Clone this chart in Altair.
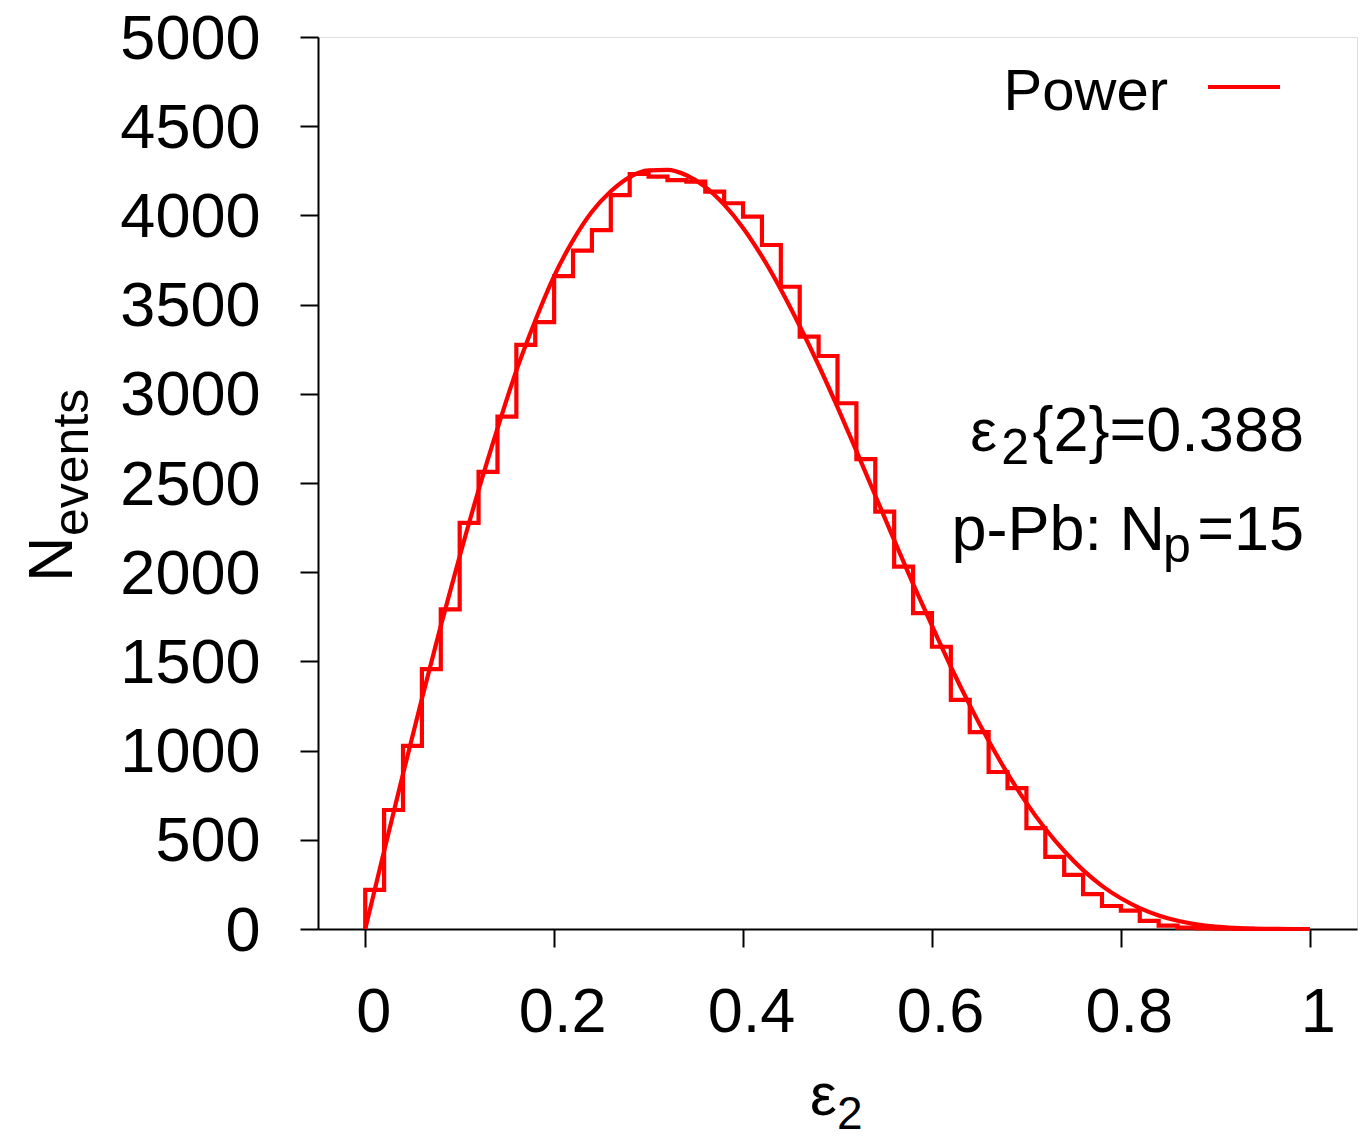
import altair as alt
import pandas as pd

FONT = "Liberation Sans"
RED = "#ff0000"

# ---------------- data ----------------
bin_width = 0.02
hist_counts = [219, 667, 1027, 1457, 1792, 2276, 2562, 2872, 3274, 3402,
               3660, 3802, 3918, 4114, 4232, 4217, 4198, 4189, 4133, 4068,
               3993, 3834, 3600, 3320, 3212, 2947, 2634, 2339, 2031, 1771,
               1582, 1284, 1104, 880, 790, 566, 404, 303, 196, 129,
               103, 46, 19, 8, 4, 2, 1, 0, 0, 0]

curve_x = [0.00, 0.02, 0.04, 0.06, 0.08, 0.10, 0.12, 0.14, 0.16, 0.18,
           0.20, 0.22, 0.24, 0.26, 0.28, 0.30, 0.32, 0.34, 0.36, 0.38,
           0.40, 0.42, 0.44, 0.46, 0.48, 0.50, 0.52, 0.54, 0.56, 0.58,
           0.60, 0.62, 0.64, 0.66, 0.68, 0.70, 0.72, 0.74, 0.76, 0.78,
           0.80, 0.82, 0.84, 0.86, 0.88, 0.90, 0.92, 0.94, 0.96, 0.98, 1.00]
curve_y = [0, 437, 869, 1291, 1699, 2089, 2460, 2805, 3130, 3410,
           3660, 3860, 4020, 4135, 4215, 4252, 4255, 4225, 4160, 4060,
           3930, 3770, 3585, 3380, 3160, 2925, 2680, 2430, 2180, 1935,
           1700, 1470, 1255, 1055, 872, 707, 562, 437, 330, 242,
           172, 117, 76, 46, 26, 13, 6, 2, 1, 0, 0]

x_ticks = [0, 0.2, 0.4, 0.6, 0.8, 1]
y_ticks = [0, 500, 1000, 1500, 2000, 2500, 3000, 3500, 4000, 4500, 5000]

legend_label = "Power"
ann1 = ["ε", "2", "{2}=0.388"]
ann2 = ["p-Pb: N", "p", "=15"]
x_title = ["ε", "2"]
y_title = ["N", "events"]

# ---------------- tables ----------------
step_x = [0.0] + [i * bin_width for i in range(len(hist_counts) + 1)]
step_y = [0] + hist_counts + [hist_counts[-1]]
hist_df = pd.DataFrame({"x": step_x, "y": step_y, "i": list(range(len(step_x)))})
curve_df = pd.DataFrame({"x": curve_x, "y": curve_y})

xscale = alt.Scale(domain=[-0.05, 1.05], nice=False, zero=False)
yscale = alt.Scale(domain=[0, 5000], nice=False)

xaxis = alt.Axis(values=x_ticks, format="~g", title=None, grid=False,
                 tickSize=18, labelPadding=34, labelFontSize=63, labelFont=FONT,
                 labelColor="black", tickColor="black", domainColor="black",
                 tickWidth=2, domainWidth=2, labelOffset=8, labelFlush=False,
                 labelOverlap=False)
yaxis = alt.Axis(values=y_ticks, format="d", title=None, grid=False,
                 tickSize=18, labelPadding=40, labelFontSize=63, labelFont=FONT,
                 labelColor="black", tickColor="black", domainColor="black",
                 tickWidth=2, domainWidth=2, labelOffset=2, labelFlush=False,
                 labelOverlap=False)

hist = alt.Chart(hist_df).mark_line(
    interpolate="step-after", color=RED, strokeWidth=4.2, strokeJoin="miter"
).encode(
    x=alt.X("x:Q", scale=xscale, axis=xaxis),
    y=alt.Y("y:Q", scale=yscale, axis=yaxis),
    order=alt.Order("i:Q"),
)

curve = alt.Chart(curve_df).mark_line(
    interpolate="monotone", color=RED, strokeWidth=4.2
).encode(
    x=alt.X("x:Q", scale=xscale),
    y=alt.Y("y:Q", scale=yscale),
)


def txt(s, x, y, size, align="left", angle=0):
    return alt.Chart(pd.DataFrame({"t": [s]})).mark_text(
        font=FONT, fontSize=size, align=align, baseline="alphabetic",
        angle=angle, color="black"
    ).encode(text="t:N", x=alt.value(x), y=alt.value(y))


legend_line = alt.Chart(pd.DataFrame({"t": [legend_label]})).mark_rule(
    color=RED, strokeWidth=4.2
).encode(x=alt.value(890), x2=alt.value(962), y=alt.value(50))

texts = [
    txt(legend_label, 850, 73, 58, "right"),
    txt(ann1[0], 679, 414, 60, "right"),
    txt(ann1[1], 711, 427, 50, "right"),
    txt(ann1[2], 986, 414, 63, "right"),
    txt(ann2[0], 847, 513, 63, "right"),
    txt(ann2[1], 845, 525, 50, "left"),
    txt(ann2[2], 986, 513, 63, "right"),
    txt(x_title[0], 492, 1078, 60, "left"),
    txt(x_title[1], 519, 1092, 46, "left"),
    txt(y_title[0], -246, 545, 63, "left", 270),
    txt(y_title[1], -230, 499, 50, "left", 270),
]

chart = alt.layer(hist, curve, legend_line, *texts).properties(
    width=1039, height=892,
    autosize=alt.AutoSizeParams(type="none"),
    padding={"left": 318, "top": 37, "right": 13, "bottom": 212},
).configure_view(
    stroke="black", strokeWidth=2
).configure(background="white")

chart.save("out.html", embed_options={"renderer": "svg", "actions": False})
